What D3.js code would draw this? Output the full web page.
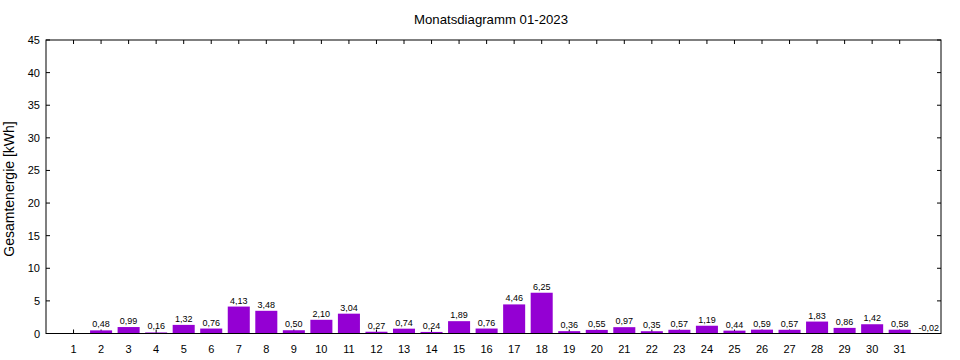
<!DOCTYPE html>
<html><head><meta charset="utf-8">
<script src="https://cdn.jsdelivr.net/npm/d3@7"></script>
<style>body{margin:0;background:#fff}svg{display:block}text{font-family:"Liberation Sans",Arial,sans-serif;fill:#000}</style>
</head><body><svg id="c" width="960" height="360"></svg>
<script>
const days = d3.range(1, 33);
const values = [null,0.48,0.99,0.16,1.32,0.76,4.13,3.48,0.50,2.10,3.04,0.27,0.74,0.24,1.89,0.76,4.46,6.25,0.36,0.55,0.97,0.35,0.57,1.19,0.44,0.59,0.57,1.83,0.86,1.42,0.58,-0.02];
const xTicks = d3.range(1, 32);
const yTicks = d3.range(0, 46, 5);
const title = "Monatsdiagramm 01-2023";
const yLabel = "Gesamtenergie [kWh]";

const svg = d3.select("#c");
const L = 46, R = 941, T = 40, B = 333.5;
const x = d3.scaleLinear().domain([0, 32.5]).range([L, R]);
const y = d3.scaleLinear().domain([0, 45]).range([B, T]);
const bw = (x(1) - x(0)) * 0.8;
const data = days.map((d, i) => ({d, v: values[i]})).filter(o => o.v !== null);

// ticks (behind bars)
const tl = 4;
const g = svg.append("g").attr("stroke", "#000");
xTicks.forEach(t => {
  g.append("line").attr("x1", x(t)).attr("x2", x(t)).attr("y1", B).attr("y2", B - tl);
  g.append("line").attr("x1", x(t)).attr("x2", x(t)).attr("y1", T).attr("y2", T + tl);
});
yTicks.forEach(t => {
  g.append("line").attr("x1", L).attr("x2", L + tl).attr("y1", y(t)).attr("y2", y(t));
  g.append("line").attr("x1", R).attr("x2", R - tl).attr("y1", y(t)).attr("y2", y(t));
});

svg.append("g").selectAll("rect").data(data.filter(o => o.v > 0)).join("rect")
  .attr("x", o => x(o.d) - bw/2).attr("width", bw)
  .attr("y", o => y(o.v)).attr("height", o => y(0) - y(o.v))
  .attr("fill", "#9400d3");

svg.append("g").selectAll("text").data(data).join("text")
  .attr("x", o => x(o.d) + (o.v < 0 ? 1.5 : 0)).attr("y", o => y(o.v) - 3)
  .attr("text-anchor", "middle").attr("font-size", 9)
  .text(o => d3.format(".2f")(o.v).replace(".", ",").replace("−", "-"));

// frame
svg.append("rect").attr("x", L).attr("y", T).attr("width", R - L).attr("height", B - T)
  .attr("fill", "none").attr("stroke", "#000").attr("stroke-width", 1);

svg.append("g").selectAll("text").data(xTicks).join("text")
  .attr("x", t => x(t)).attr("y", B + 19).attr("text-anchor", "middle").attr("font-size", 11)
  .text(t => t);
svg.append("g").selectAll("text").data(yTicks).join("text")
  .attr("x", L - 6).attr("y", t => y(t) + 4).attr("text-anchor", "end").attr("font-size", 11)
  .text(t => t);

svg.append("text").attr("x", 491).attr("y", 24).attr("text-anchor", "middle")
  .attr("font-size", 13.2).text(title);
svg.append("text").attr("transform", `translate(13.5,189) rotate(-90)`)
  .attr("text-anchor", "middle").attr("font-size", 14).text(yLabel);
</script></body></html>
